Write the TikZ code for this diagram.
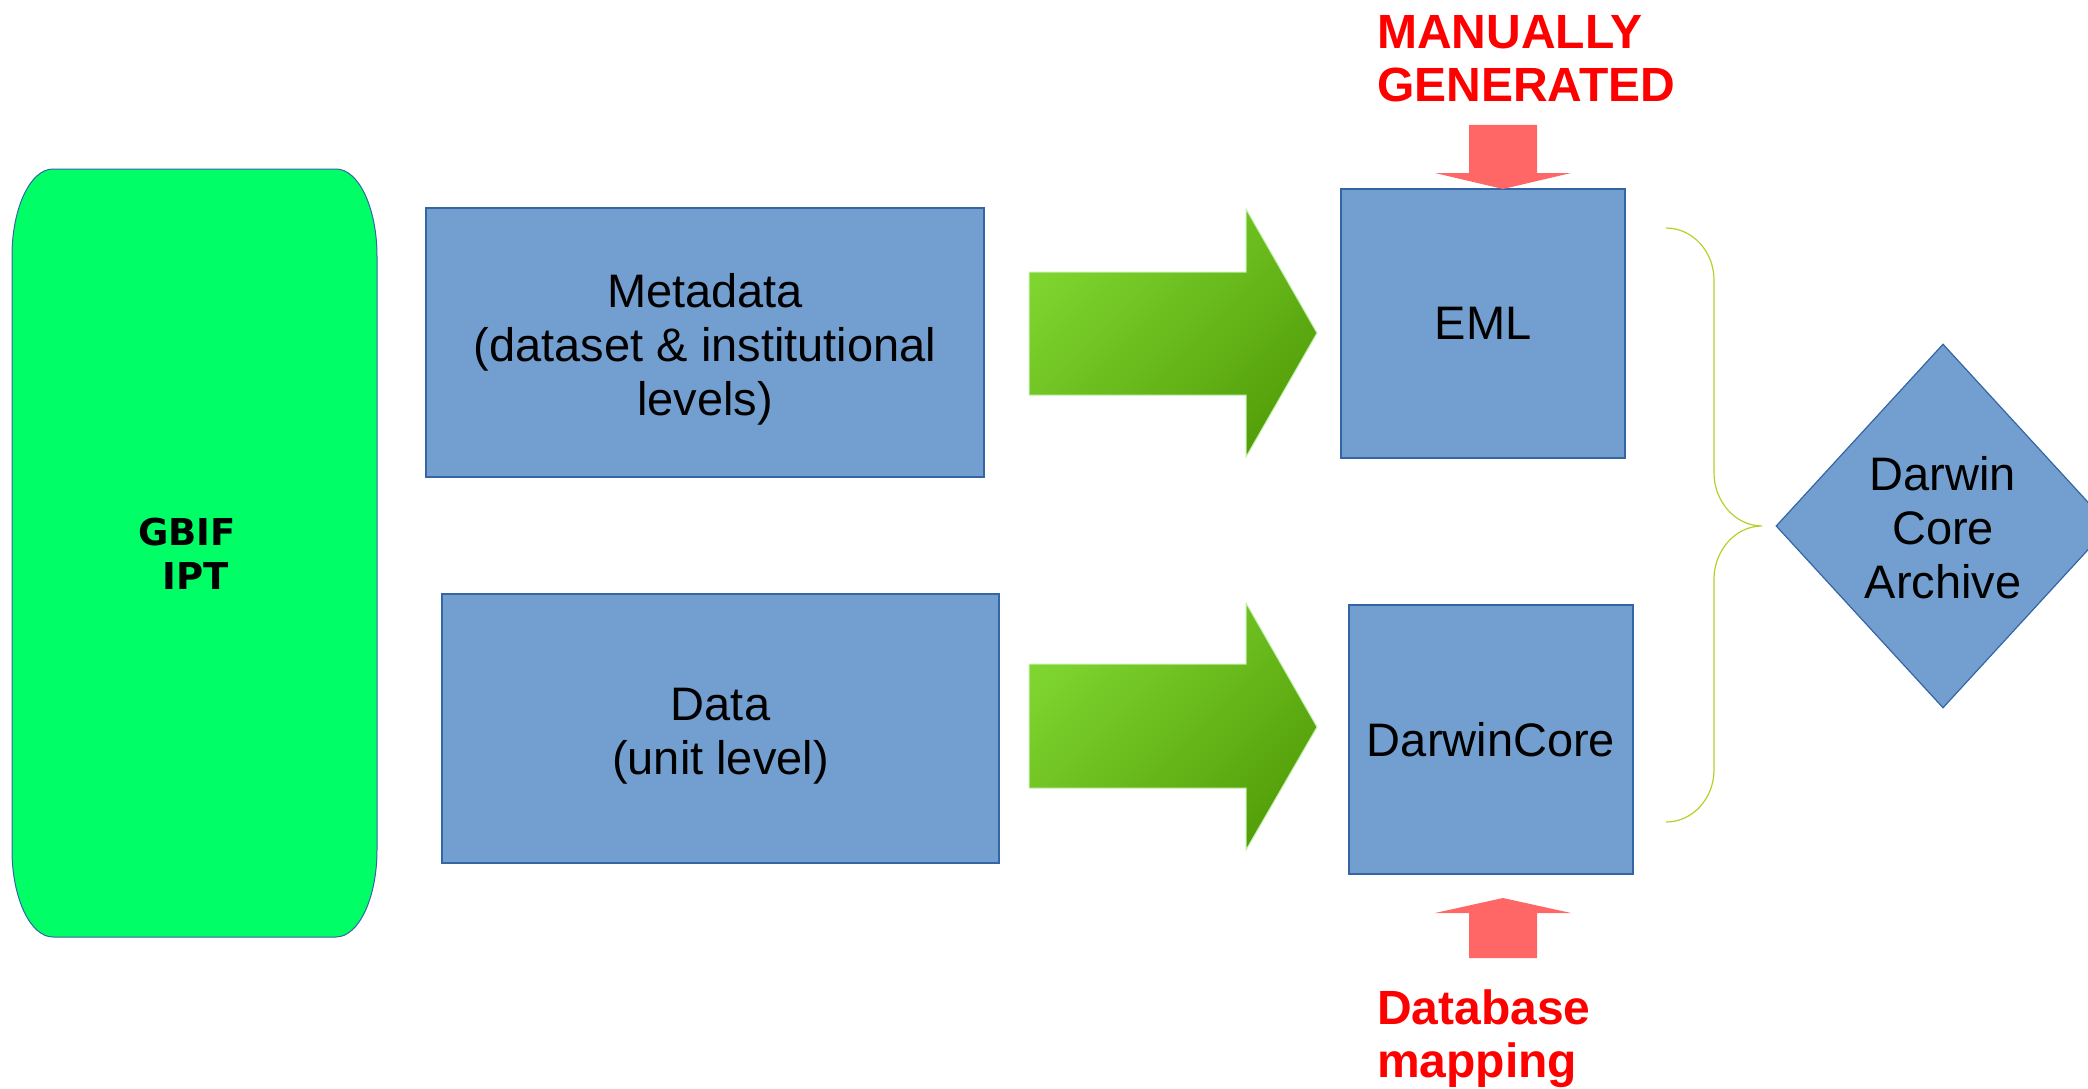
\documentclass[tikz,border=0pt]{standalone}
\usepackage{fontspec}
\setmainfont{Liberation Sans}
\newfontfamily\gbiffont{DejaVu Sans}
\usetikzlibrary{shapes.geometric}

\definecolor{boxblue}{RGB}{114,159,207}
\definecolor{boxedge}{RGB}{52,101,164}
\definecolor{iptgreen}{RGB}{0,255,102}
\definecolor{arrowlight}{RGB}{127,213,47}
\definecolor{arrowdark}{RGB}{84,160,10}
\definecolor{arrowedge}{RGB}{196,240,176}
\definecolor{salmon}{RGB}{255,102,102}
\definecolor{bracecol}{RGB}{186,206,40}

\tikzset{
  bluebox/.style={draw=boxedge, fill=boxblue, line width=1.2pt, inner sep=0pt, align=center, font=\fontsize{47}{54}\selectfont},
  redlabel/.style={text=red, font=\fontsize{48}{53}\selectfont\bfseries, align=left, inner sep=0pt, anchor=north west},
  greenarrow/.style={top color=arrowlight, bottom color=arrowdark, shading angle=45, draw=arrowedge, line width=1pt},
  redarrow/.style={fill=salmon}
}

\begin{document}
\begin{tikzpicture}[x=1pt,y=1pt]
  \useasboundingbox (0,0) rectangle (2088,-1089);

  % GBIF IPT column
  \filldraw[draw=boxedge, fill=iptgreen, line width=1pt] (53,-169) -- (336,-169)
     arc[start angle=90, end angle=0, x radius=41, y radius=87] -- (377,-850)
     arc[start angle=0, end angle=-90, x radius=41, y radius=87] -- (53,-937)
     arc[start angle=270, end angle=180, x radius=41, y radius=87] -- (12,-256)
     arc[start angle=180, end angle=90, x radius=41, y radius=87] -- cycle;
  \draw (187,-554) node[inner sep=0pt, align=center, font=\fontsize{37}{44}\gbiffont\bfseries] (gbif) {GBIF\\\hspace*{18pt}IPT};

  % metadata and data
  \draw (705,-342.5) node[bluebox, minimum width=558pt, minimum height=269pt] (meta) {\rule{0pt}{48pt}Metadata\\(dataset \& institutional\\levels)};
  \draw (720.5,-728.5) node[bluebox, minimum width=557pt, minimum height=269pt] (data) {\rule{0pt}{47pt}Data\\(unit level)};

  \shade[greenarrow] (1029,-272) -- (1246,-272) -- (1246,-209) -- (1317,-333) -- (1246,-457) -- (1246,-395) -- (1029,-395) -- cycle;
  \shade[greenarrow] (1029,-664) -- (1246,-664) -- (1246,-603) -- (1317,-727) -- (1246,-850) -- (1246,-788) -- (1029,-788) -- cycle;

  % outputs
  \draw (1483,-323.5) node[bluebox, minimum width=284pt, minimum height=269pt] (eml) {EML};
  \draw (1491,-739.5) node[bluebox, minimum width=284pt, minimum height=269pt] (dwc) {DarwinCore};

  \node[redlabel] (manual) at (1377,-15) {MANUALLY\\GENERATED};
  \node[redlabel] (dbmap) at (1377,-990) {Database\\mapping};

  \fill[redarrow] (1469,-125) -- (1537,-125) -- (1537,-173) -- (1571,-173) -- (1503,-189) -- (1435,-173) -- (1469,-173) -- cycle;
  \fill[redarrow] (1469,-958) -- (1537,-958) -- (1537,-913) -- (1571,-913) -- (1503,-898) -- (1435,-913) -- (1469,-913) -- cycle;

  % brace to the archive
  \coordinate (bracetop) at (1666,-228);
  \coordinate (bracebot) at (1666,-822);
  \draw[bracecol, line width=1.2pt] (bracetop) .. controls +(27,0) and +(0,28) .. ++(48,-52) -- ++(0,-193)
     .. controls +(0,-28) and +(-27,0) .. ++(48,-53) coordinate (bracetip)
     .. controls +(-27,0) and +(0,28) .. ++(-48,-53) -- ++(0,-191)
     .. controls +(0,-28) and +(27,0) .. (bracebot);

  \draw (1943,-526) node[diamond, draw=boxedge, fill=boxblue, line width=1.2pt, minimum width=334pt, minimum height=364pt, inner sep=0pt, align=center, font=\fontsize{47}{54}\selectfont] (dwca) {\rule{0pt}{38pt}Darwin\\Core\\Archive};
\end{tikzpicture}
\end{document}
